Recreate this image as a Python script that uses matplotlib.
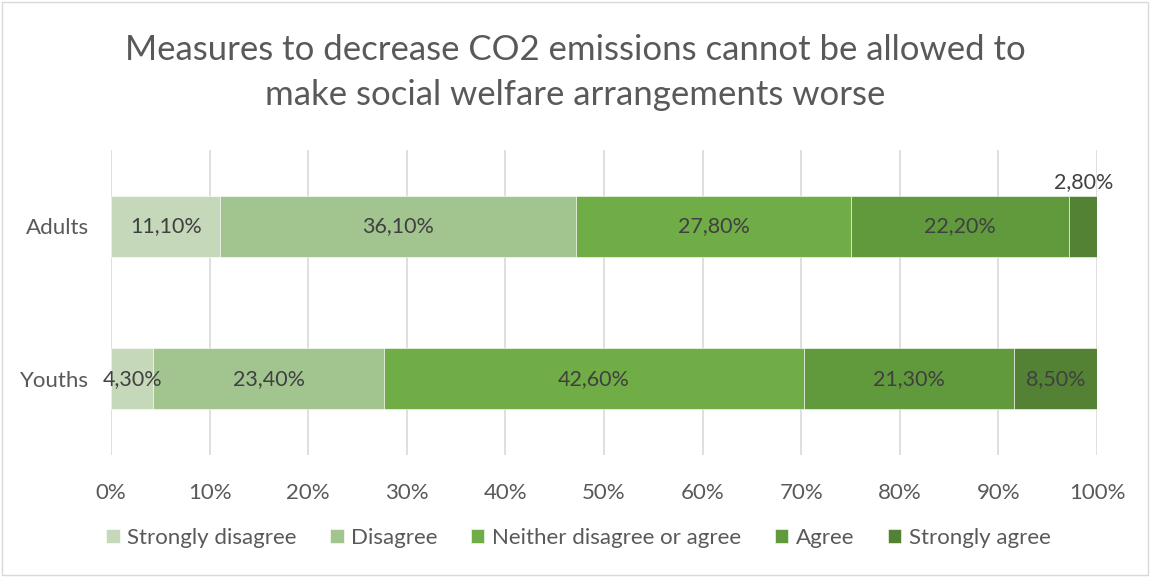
import matplotlib.pyplot as plt
from matplotlib.patches import Rectangle
import numpy as np

plt.rcParams['font.family'] = ['Lato', 'DejaVu Sans']

groups = ["Adults", "Youths"]
categories = ["Strongly disagree", "Disagree", "Neither disagree or agree", "Agree", "Strongly agree"]
adults = [11.1, 36.1, 27.8, 22.2, 2.8]
youths = [4.3, 23.4, 42.6, 21.3, 8.5]
colors = ["#C5D9BA", "#A2C590", "#70AD47", "#609A3D", "#548235"]
xticks = np.arange(0, 101, 10)

values = np.array([adults, youths])

fig = plt.figure(figsize=(11.5, 5.77), dpi=100)
ax = fig.add_axes([111/1150, 1 - 455/577, (1097 - 111)/1150, 305/577])
fig.patches.append(Rectangle((0.002, 0.003), 0.996, 0.994, transform=fig.transFigure,
                             fill=False, edgecolor="#D9D9D9", linewidth=1))

ypos = np.arange(len(groups))
left = np.zeros(len(groups))
for j, cat in enumerate(categories):
    ax.barh(ypos, values[:, j], left=left, height=0.4, color=colors[j],
            label=cat, zorder=2, edgecolor="white", linewidth=0.4)
    for i in range(len(groups)):
        v = values[i, j]
        txt = f"{v:.2f}".replace(".", ",") + "%"
        if v < 3:
            # too narrow: label sits above the segment
            ax.text(left[i] + v / 2, ypos[i] - 0.225, txt, ha="center", va="bottom",
                    fontsize=15.5, color="#404040")
        else:
            ax.text(left[i] + v / 2, ypos[i], txt, ha="center", va="center",
                    fontsize=15.5, color="#404040")
    left += values[:, j]

ax.set_xlim(0, 100)
ax.set_ylim(1.5, -0.5)
ax.set_yticks(ypos)
ax.set_yticklabels(groups, fontsize=16, color="#595959")
ax.set_xticks(xticks)
ax.set_xticklabels([f"{x}%" for x in xticks], fontsize=16, color="#595959")
ax.tick_params(length=0)
ax.tick_params(axis="x", pad=20)
ax.tick_params(axis="y", pad=16)
for s in ax.spines.values():
    s.set_visible(False)
ax.grid(True, axis="x", color="#D9D9D9", linewidth=1.2, zorder=0)
ax.set_axisbelow(True)

fig.text(0.5, 1 - 72/577, "Measures to decrease CO2 emissions cannot be allowed to\nmake social welfare arrangements worse",
         ha="center", va="center", fontsize=25, color="#595959", linespacing=1.5)

fig.legend(*ax.get_legend_handles_labels(), loc="center", bbox_to_anchor=(0.503, 1 - 538/577),
           ncol=5, frameon=False, fontsize=16, labelcolor="#595959",
           handlelength=0.6, handleheight=0.6, handletextpad=0.35, columnspacing=1.5)

fig.savefig("out.png", dpi=100)
